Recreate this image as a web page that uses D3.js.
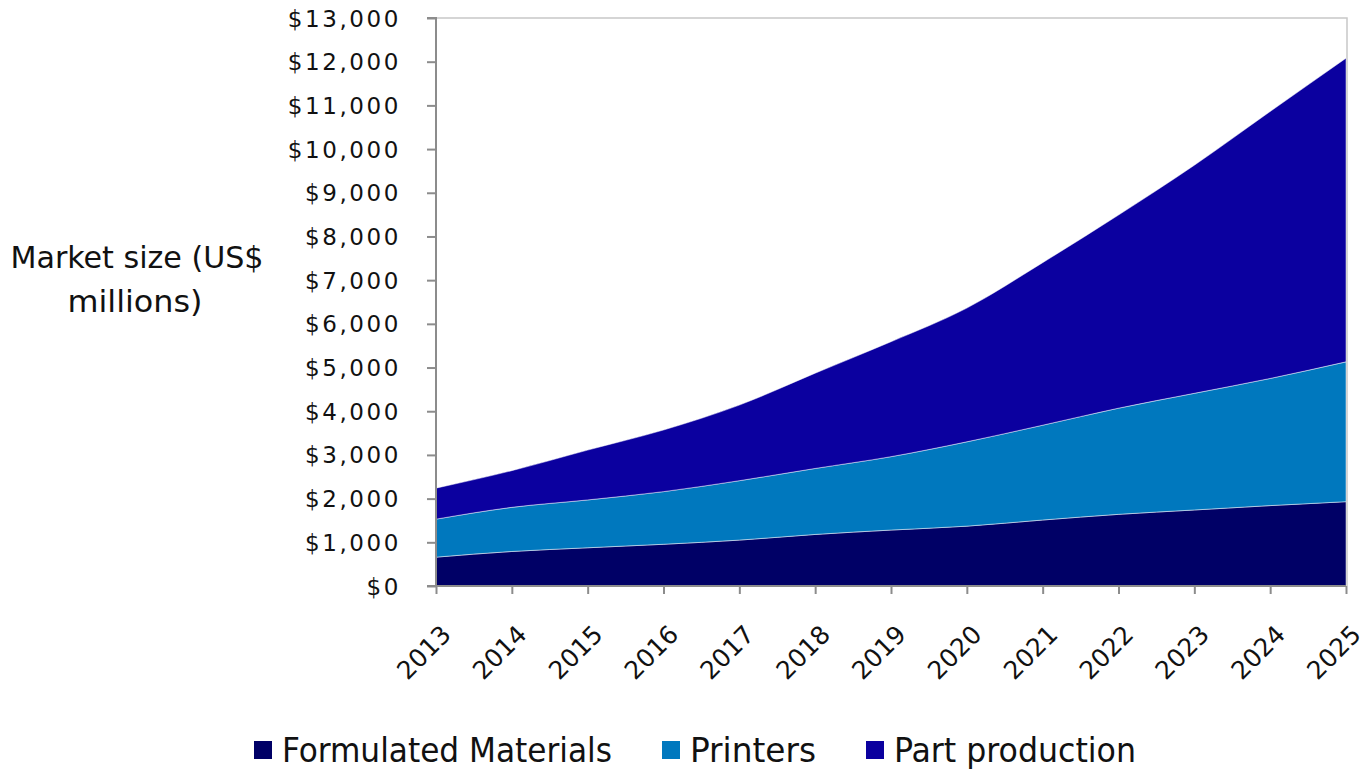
<!DOCTYPE html>
<html>
<head>
<meta charset="utf-8">
<script src="https://cdn.jsdelivr.net/npm/d3@7"></script>
<style>
  body { margin: 0; background: #fff; }
  svg { display: block; }
  .tick text { font-family: "DejaVu Sans", sans-serif; fill: #111; }
</style>
</head>
<body>
<svg id="chart"></svg>
<script>
// data (US$ millions)
const years = [2013, 2014, 2015, 2016, 2017, 2018, 2019, 2020, 2021, 2022, 2023, 2024, 2025];
const formulated = [660, 790, 875, 955, 1050, 1180, 1280, 1370, 1510, 1640, 1740, 1840, 1930];
const printers = [870, 1010, 1095, 1205, 1360, 1510, 1680, 1930, 2170, 2430, 2670, 2910, 3200];
const partProduction = [710, 840, 1140, 1410, 1730, 2180, 2630, 3060, 3720, 4420, 5220, 6110, 6950];
const seriesNames = ['Formulated Materials', 'Printers', 'Part production'];
const colors = ['#000066', '#0078be', '#0b009f'];
const yTicks = d3.range(0, 13001, 1000);

const w = 1367, h = 770;
const x0 = 436, x1 = 1346, yTop = 18, yBot = 586;

const svg = d3.select('#chart').attr('width', w).attr('height', h);

const rows = years.map((y, i) => ({year: y, f: formulated[i], p: printers[i], pp: partProduction[i]}));
const stack = d3.stack().keys(['f', 'p', 'pp']);
const layers = stack(rows);

const escalaX = d3.scaleLinear().domain([years[0], years[years.length - 1]]).range([x0, x1]);
const escalaY = d3.scaleLinear().domain([0, 13000]).range([yBot, yTop]);

const area = d3.area()
  .x(d => escalaX(d.data.year))
  .y0(d => escalaY(d[0]))
  .y1(d => escalaY(d[1]))
  .curve(d3.curveMonotoneX);

svg.append('g')
  .selectAll('path')
  .data(layers)
  .enter()
  .append('path')
  .attr('d', area)
  .attr('fill', (d, i) => colors[i])
  .attr('stroke', '#fff')
  .attr('stroke-width', 0.8)
  .attr('stroke-opacity', 0.6);

// plot border top/right
svg.append('path')
  .attr('d', 'M' + x0 + ',' + yTop + 'H' + (x1 + 1) + 'V' + yBot)
  .attr('fill', 'none')
  .attr('stroke', '#c8c8c8')
  .attr('stroke-width', 1.5);

const moneda = d => '$' + d3.format(',')(d);

const ejeY = d3.axisLeft(escalaY)
  .tickValues(yTicks)
  .tickFormat(moneda)
  .tickSize(9)
  .tickPadding(26);

const gy = svg.append('g')
  .attr('transform', 'translate(' + x0 + ',0)')
  .call(ejeY);
gy.selectAll('path, line').attr('stroke', '#8c8c8c').attr('stroke-width', 2);
gy.select('.domain').attr('d', 'M-9,' + yBot + 'H0V' + yTop + 'H-9');
gy.selectAll('text').attr('font-size', 23).attr('letter-spacing', 2.6).attr('dy', '0.35em');

const ejeX = d3.axisBottom(escalaX)
  .tickValues(years)
  .tickFormat(d3.format('d'))
  .tickSize(8);

const gx = svg.append('g')
  .attr('transform', 'translate(0,' + yBot + ')')
  .call(ejeX);
gx.selectAll('path, line').attr('stroke', '#8c8c8c').attr('stroke-width', 2);
gx.select('.domain').attr('d', 'M' + x0 + ',0H' + x1);
gx.selectAll('text')
  .attr('font-size', 25)
  .attr('text-anchor', 'end')
  .attr('dy', 0)
  .attr('y', 0)
  .attr('transform', 'translate(16,50) rotate(-45)');

// y axis title
const titulo = svg.append('text')
  .attr('text-anchor', 'middle')
  .attr('font-family', '"Liberation Sans Narrow", "DejaVu Sans Condensed", sans-serif')
  .attr('font-size', 31)
  .attr('fill', '#111');
titulo.append('tspan').attr('x', 137).attr('y', 268)
  .attr('textLength', 253).attr('lengthAdjust', 'spacingAndGlyphs').text('Market size (US$');
titulo.append('tspan').attr('x', 135).attr('y', 312)
  .attr('textLength', 135).attr('lengthAdjust', 'spacingAndGlyphs').text('millions)');

// legend
const legendX = [254, 662, 866];
const legendW = [330, 126, 242];
const leg = svg.append('g')
  .selectAll('g')
  .data(seriesNames)
  .enter()
  .append('g')
  .attr('transform', (d, i) => 'translate(' + legendX[i] + ',741)');
leg.append('rect')
  .attr('width', 18)
  .attr('height', 18)
  .attr('fill', (d, i) => colors[i]);
leg.append('text')
  .attr('x', 28)
  .attr('y', 21)
  .attr('font-family', '"Liberation Sans Narrow", "DejaVu Sans Condensed", sans-serif')
  .attr('font-size', 33)
  .attr('fill', '#111')
  .attr('textLength', (d, i) => legendW[i])
  .attr('lengthAdjust', 'spacingAndGlyphs')
  .text(d => d);
</script>
</body>
</html>
